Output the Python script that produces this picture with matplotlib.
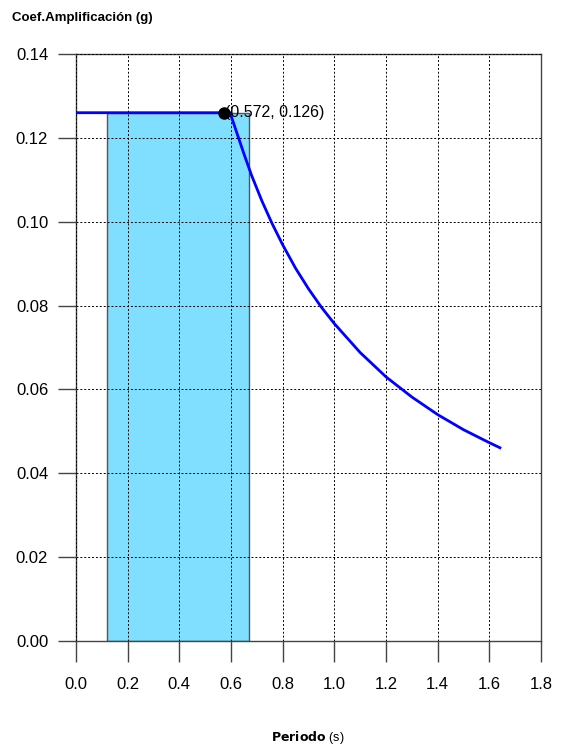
import matplotlib.pyplot as plt
from matplotlib.patches import Rectangle

plt.rcParams['font.family'] = ['Liberation Sans', 'DejaVu Sans']

# espectro de respuesta: periodo (s) vs coeficiente de amplificacion (g)
periodo = [0.0, 0.572, 0.596, 0.610, 0.628, 0.650, 0.680, 0.720, 0.758, 0.800,
           0.850, 0.900, 0.950, 1.000, 1.100, 1.200, 1.300, 1.400, 1.500, 1.600, 1.641]
coef = [0.126, 0.126, 0.126, 0.1235, 0.1202, 0.1162, 0.1110, 0.1049, 0.0997, 0.0945,
        0.0889, 0.0840, 0.0796, 0.0757, 0.0688, 0.0630, 0.0582, 0.0540, 0.0504, 0.0473, 0.0461]

# punto maximo marcado
t_max = 0.572
sa_max = 0.126

# banda de periodos sombreada
banda_ini = 0.119
banda_fin = 0.668

xticks = [0.0, 0.2, 0.4, 0.6, 0.8, 1.0, 1.2, 1.4, 1.6, 1.8]
yticks = [0.00, 0.02, 0.04, 0.06, 0.08, 0.10, 0.12, 0.14]

fig = plt.figure(figsize=(5.61, 7.47), dpi=100)
ax = fig.add_axes([0.1355, 0.1419, 0.8288, 0.7858])

ax.add_patch(Rectangle((banda_ini, 0), banda_fin - banda_ini, sa_max,
                       facecolor='#80DFFF', edgecolor='#555555', lw=1.0, zorder=1))

ax.grid(True, color='black', linestyle=(0, (2, 2)), linewidth=0.7, zorder=2)
ax.set_axisbelow(False)

ax.plot(periodo, coef, color='#0000FF', lw=2.0, zorder=3)
ax.plot([t_max], [sa_max], 'o', color='black', markersize=8, zorder=4)
ax.annotate(f'({t_max}, {sa_max})', (t_max, sa_max), xytext=(1, 0),
            textcoords='offset points', va='center', ha='left', fontsize=11.5)

ax.set_xlim(0, 1.8)
ax.set_ylim(0, 0.14)
ax.set_xticks(xticks)
ax.set_yticks(yticks)
ax.set_xticklabels([f'{v:.1f}' for v in xticks], fontsize=12)
ax.set_yticklabels([f'{v:.2f}' for v in yticks], fontsize=12)
ax.tick_params(axis='x', direction='out', length=15, width=1, color='#444444', pad=11)
ax.tick_params(axis='y', direction='out', length=13, width=1, color='#444444', pad=7)
for s in ax.spines.values():
    s.set_color('#444444')
    s.set_linewidth(1.0)

fig.text(12 / 561, 1 - 18 / 747, 'Coef.Amplificación (g)', fontsize=9.5,
         fontweight='bold', ha='left', va='center')
fig.text(308 / 561, 1 - 737 / 747, r'$\bf{Periodo}$ (s)', fontsize=9,
         ha='center', va='center')

plt.savefig('out.png', dpi=100)
